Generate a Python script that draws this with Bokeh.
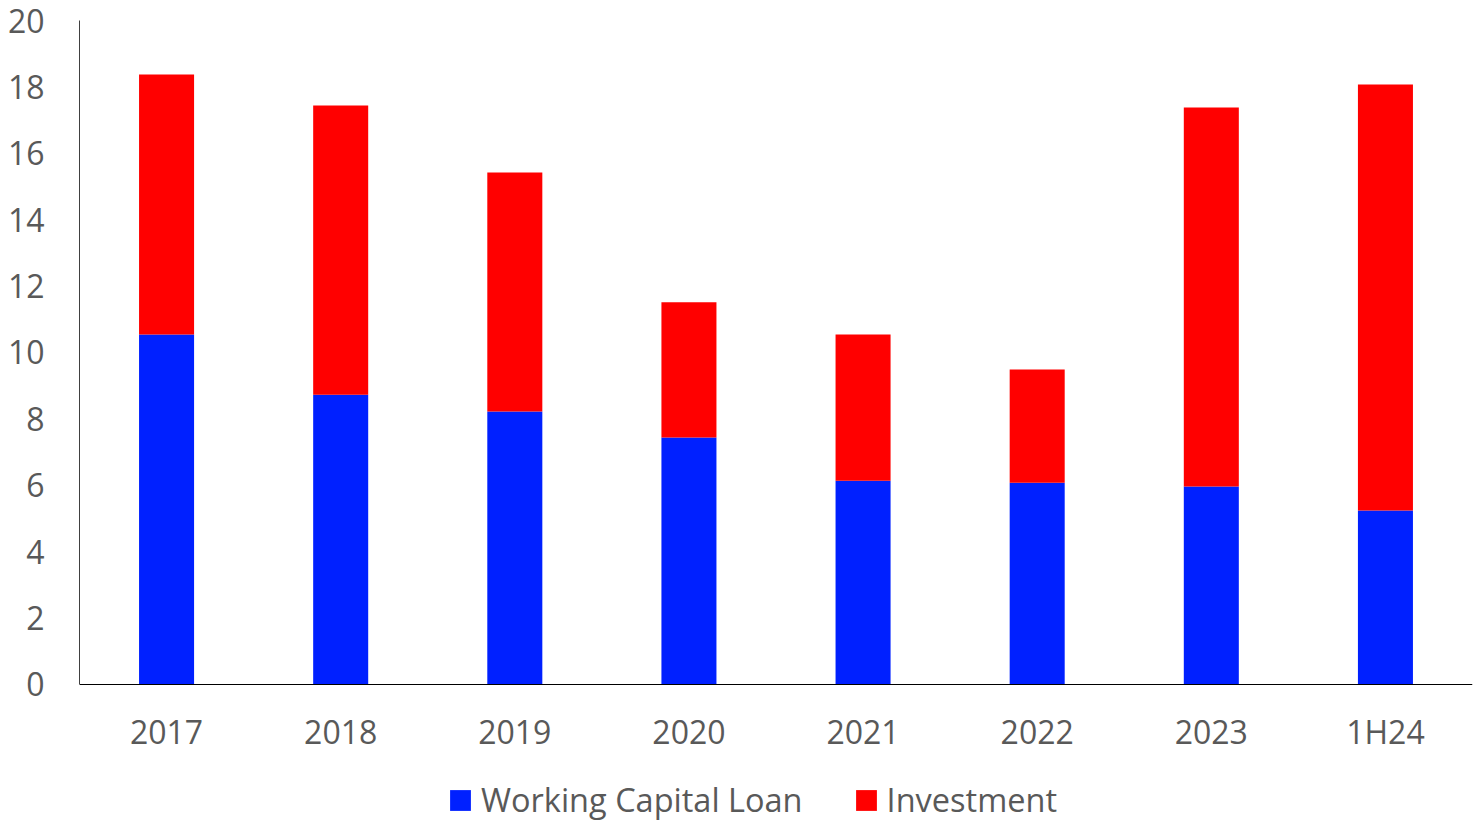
from bokeh.plotting import figure
from bokeh.models import FactorRange, Range1d, FixedTicker, Legend, LegendItem
from bokeh.embed import file_html
from bokeh.resources import INLINE

categories = ["2017", "2018", "2019", "2020", "2021", "2022", "2023", "1H24"]
working_capital = [10.54, 8.73, 8.22, 7.44, 6.14, 6.08, 5.96, 5.24]
investment = [7.83, 8.71, 7.20, 4.07, 4.40, 3.41, 11.42, 12.83]
y_ticks = [0, 2, 4, 6, 8, 10, 12, 14, 16, 18, 20]

FONT = "Open Sans"
TXT = "#595959"

# frame extends below zero so the legend fits inside it; axis drawn at y=0
p = figure(x_range=FactorRange(*categories, range_padding=0),
           y_range=Range1d(-4.157, 20),
           width=1474, height=822, output_backend="svg", toolbar_location=None,
           min_border_left=79, min_border_right=2, min_border_top=20, min_border_bottom=0)

src = dict(cat=categories, wc=working_capital, inv=investment)
r = p.vbar_stack(["wc", "inv"], x="cat", width=0.316, source=src,
                 color=["#0020FF", "#FF0000"], line_color=None)

p.xgrid.visible = False
p.ygrid.visible = False
p.outline_line_color = None

p.yaxis.ticker = FixedTicker(ticks=y_ticks)
p.yaxis.bounds = (0, 20)
p.yaxis.major_tick_line_color = None
p.yaxis.minor_tick_line_color = None
p.yaxis.major_tick_out = 0
p.yaxis.axis_line_color = "#404040"
p.yaxis.major_label_standoff = 35
p.xaxis.fixed_location = 0
p.xaxis.major_tick_line_color = None
p.xaxis.minor_tick_line_color = None
p.xaxis.major_tick_out = 0
p.xaxis.axis_line_color = "#000000"
p.xaxis.major_label_standoff = 26
for ax in (p.xaxis, p.yaxis):
    ax.major_label_text_font = FONT
    ax.major_label_text_font_size = "32px"
    ax.major_label_text_color = TXT

legend = Legend(items=[LegendItem(label="Working Capital Loan", renderers=[r[0]]),
                       LegendItem(label="Investment", renderers=[r[1]])],
                orientation="horizontal", location=(368, 0),
                label_text_font=FONT, label_text_font_size="32.5px", label_text_color=TXT,
                glyph_width=26, glyph_height=26, label_standoff=8, spacing=50,
                padding=0, margin=0, border_line_color=None, background_fill_alpha=0)
p.add_layout(legend, "center")

open("out.html", "w").write(file_html(p, INLINE))
